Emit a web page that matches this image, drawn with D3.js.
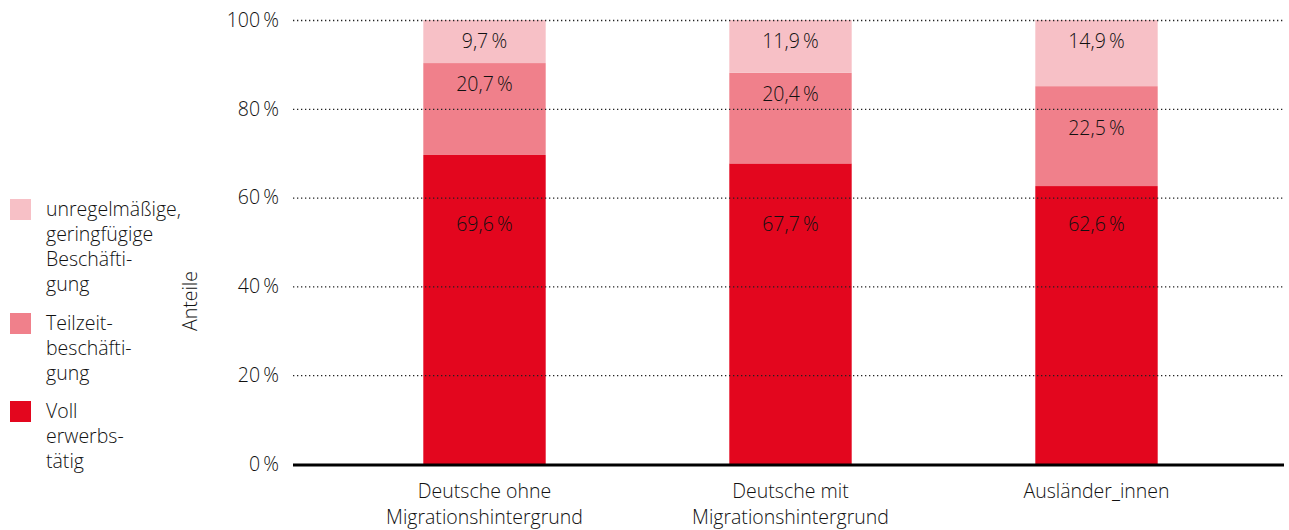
<!DOCTYPE html>
<html>
<head>
<meta charset="utf-8">
<script src="https://cdn.jsdelivr.net/npm/d3@7"></script>
<style>
  body { margin: 0; background: #fff; }
  svg { display: block; font-family: "Open Sans", "Noto Sans", sans-serif; font-weight: 300; }
</style>
</head>
<body>
<div id="chart"></div>
<script>
// categories (two-line labels)
const categories = ["Deutsche ohne|Migrationshintergrund", "Deutsche mit|Migrationshintergrund", "Ausländer_innen"]
// series, bottom to top
const seriesKeys = ["voll", "teilzeit", "unregel"]
const vollValues = [69.6, 67.7, 62.6]
const teilzeitValues = [20.7, 20.4, 22.5]
const unregelValues = [9.7, 11.9, 14.9]
const yTicks = [0, 20, 40, 60, 80, 100]
const legendLabels = [
  ["unregelmäßige,", "geringfügige", "Beschäfti-", "gung"],
  ["Teilzeit-", "beschäfti-", "gung"],
  ["Voll", "erwerbs-", "tätig"],
]
const colors = { voll: "#e3061e", teilzeit: "#f0808b", unregel: "#f7c0c6" }

const W = 1289, H = 530
const plot = { left: 293, right: 1284, top: 20, bottom: 464 }
const FS = 19.5
const TXT = "#111"

const rows = categories.map((c, i) => ({
  cat: c, voll: vollValues[i], teilzeit: teilzeitValues[i], unregel: unregelValues[i],
}))

const svg = d3.select("#chart").append("svg").attr("width", W).attr("height", H)

const x = d3.scaleBand().domain(categories).range([331.5, 1249.5])
  .paddingInner(0.6).paddingOuter(0.3)
const y = d3.scaleLinear().domain([0, 100]).range([plot.bottom, plot.top])

// y axis labels
const yAxis = d3.axisLeft(y).tickValues(yTicks).tickSize(0).tickPadding(0)
  .tickFormat((d) => `${d}\u2009%`)
svg.append("g").attr("transform", `translate(${plot.left - 14},0)`).call(yAxis)
  .call((g) => g.select(".domain").remove())
  .call((g) => g.selectAll("text").attr("font-size", FS).attr("fill", TXT)
    .attr("font-family", "Open Sans, Noto Sans, sans-serif").attr("font-weight", 300))

// stacked bars
const stacked = d3.stack().keys(seriesKeys)(rows)
const layers = svg.append("g").selectAll("g").data(stacked).join("g")
  .attr("fill", (s) => colors[s.key])
layers.selectAll("rect").data((s) => s).join("rect")
  .attr("x", (d) => x(d.data.cat))
  .attr("width", x.bandwidth())
  .attr("y", (d) => y(d[1]))
  .attr("height", (d) => y(d[0]) - y(d[1]))

// gridlines (drawn over the bars, as in the original)
svg.append("g").selectAll("line").data(yTicks.filter((d) => d > 0)).join("line")
  .attr("x1", plot.left).attr("x2", plot.right)
  .attr("y1", (d) => y(d) + 0.5).attr("y2", (d) => y(d) + 0.5)
  .attr("stroke", "#222").attr("stroke-width", 1.3).attr("stroke-dasharray", "1.3,2.7")

// value labels
const fmt = (v) => `${v.toFixed(1).replace(".", ",")}\u2009%`
const labels = svg.append("g")
stacked.forEach((s) => {
  labels.selectAll(null).data(s).join("text")
    .attr("x", (d) => x(d.data.cat) + x.bandwidth() / 2)
    .attr("y", (d) => {
      if (s.key === "voll") return y(54) + 7
      if (s.key === "teilzeit" && d[1] - d[0] > 21) return (y(d[0]) + y(d[1])) / 2 - 1
      return y(d[1]) + 28
    })
    .attr("text-anchor", "middle")
    .attr("font-size", FS)
    .attr("fill", TXT)
    .text((d) => fmt(d[1] - d[0]))
})

// baseline
svg.append("line").attr("x1", plot.left).attr("x2", plot.right)
  .attr("y1", y(0) + 1).attr("y2", y(0) + 1).attr("stroke", "#000").attr("stroke-width", 3)

// category labels
svg.append("g").selectAll("text").data(categories).join("text")
  .attr("x", (d) => x(d) + x.bandwidth() / 2)
  .attr("y", 498)
  .attr("text-anchor", "middle")
  .attr("font-size", FS)
  .attr("fill", TXT)
  .each(function (d) {
    d.split("|").forEach((line, i) => {
      d3.select(this).append("tspan").attr("x", x(d) + x.bandwidth() / 2)
        .attr("dy", i === 0 ? 0 : 25.5).text(line)
    })
  })

// y axis title
svg.append("text").attr("transform", "translate(197,301) rotate(-90)")
  .attr("text-anchor", "middle").attr("font-size", FS).attr("fill", TXT).text("Anteile")

// legend
const legendTops = [199, 313, 401]
const legendKeys = ["unregel", "teilzeit", "voll"]
const legend = svg.append("g").selectAll("g").data(legendLabels).join("g")
  .attr("transform", (d, i) => `translate(10,${legendTops[i]})`)
legend.append("rect").attr("width", 21).attr("height", 21)
  .attr("fill", (d, i) => colors[legendKeys[i]])
legend.append("text").attr("font-size", FS).attr("fill", TXT)
  .each(function (d) {
    d.forEach((line, i) => {
      d3.select(this).append("tspan").attr("x", 36).attr("y", 17 + i * 25).text(line)
    })
  })
</script>
</body>
</html>
